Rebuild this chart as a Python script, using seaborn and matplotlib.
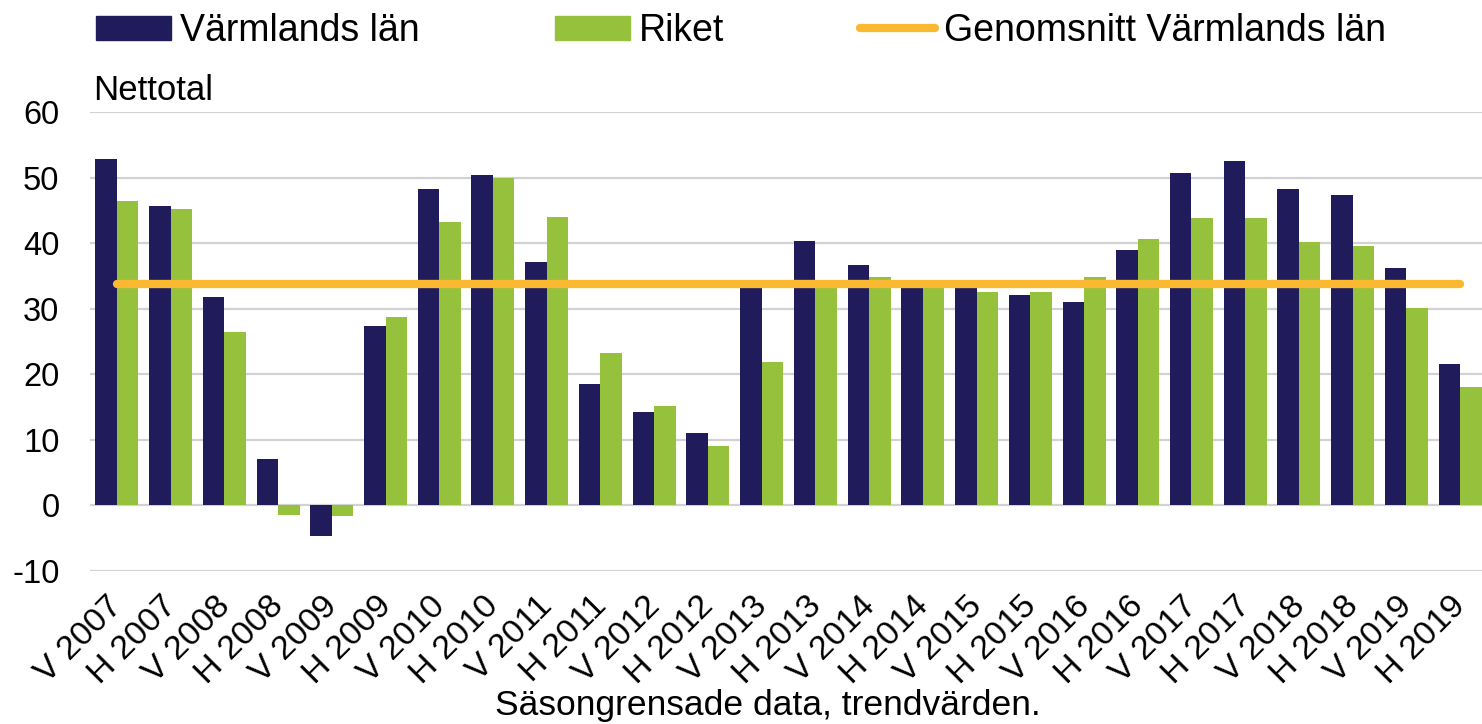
import numpy as np
import pandas as pd
import matplotlib
matplotlib.use("Agg")
import matplotlib.pyplot as plt
import matplotlib.transforms as mtransforms
import seaborn as sns
from matplotlib.patches import Patch
from matplotlib.lines import Line2D

# data
perioder = ['V 2007', 'H 2007', 'V 2008', 'H 2008', 'V 2009', 'H 2009', 'V 2010', 'H 2010',
            'V 2011', 'H 2011', 'V 2012', 'H 2012', 'V 2013', 'H 2013', 'V 2014', 'H 2014',
            'V 2015', 'H 2015', 'V 2016', 'H 2016', 'V 2017', 'H 2017', 'V 2018', 'H 2018',
            'V 2019', 'H 2019']
varmland = [52.9, 45.7, 31.8, 7.1, -4.7, 27.4, 48.2, 50.4, 37.1, 18.5, 14.3, 11.0, 33.6,
            40.4, 36.6, 33.5, 33.3, 32.1, 31.0, 39.0, 50.7, 52.6, 48.2, 47.4, 36.2, 21.5]
riket = [46.5, 45.2, 26.5, -1.4, -1.6, 28.7, 43.2, 49.9, 44.0, 23.2, 15.2, 9.0, 21.8,
         33.5, 34.9, 33.5, 32.6, 32.6, 34.9, 40.7, 43.8, 43.8, 40.2, 39.6, 30.1, 18.0]
genomsnitt = 33.7
serier = ['Värmlands län', 'Riket']
y_ticks = [-10, 0, 10, 20, 30, 40, 50, 60]

dark = '#201c5c'
green = '#95c13d'
orange = '#fbb931'

sns.set_style('white')
plt.rcParams['font.family'] = ['Liberation Sans', 'DejaVu Sans']
plt.rcParams['text.color'] = 'black'
plt.rcParams['xtick.color'] = 'black'
plt.rcParams['ytick.color'] = 'black'

df = pd.DataFrame({
    'period': perioder * 2,
    'serie': [serier[0]] * len(perioder) + [serier[1]] * len(perioder),
    'value': varmland + riket,
})

fig = plt.figure(figsize=(14.82, 7.24), dpi=100)
ax = fig.add_axes([90 / 1482, 0.2113, 1397 / 1482, 0.6340])

sns.barplot(data=df, x='period', y='value', hue='serie', order=perioder, hue_order=serier,
            palette=[dark, green], saturation=1, width=0.8, linewidth=0, ax=ax, legend=False,
            zorder=2)
ax.plot([0, len(perioder) - 1], [genomsnitt, genomsnitt], color=orange, lw=6,
        solid_capstyle='round', zorder=3)

ax.set_ylim(-10, 60)
ax.set_xlim(-0.5, len(perioder) - 0.5)
ax.set_yticks(y_ticks)
ax.set_yticklabels([str(t) for t in y_ticks], fontsize=23.5)
ax.yaxis.grid(True, color='#d2d2d2', lw=1.6, zorder=0)
ax.set_axisbelow(True)
for s in ax.spines.values():
    s.set_visible(False)
ax.tick_params(axis='y', length=0, pad=22)
ax.tick_params(axis='x', length=0, pad=14)
ax.set_xticks(range(len(perioder)))
ax.set_xticklabels(perioder, rotation=45, ha='right', rotation_mode='anchor', fontsize=24.5)
# nudge the rotated labels a little to the left
shift = mtransforms.ScaledTranslation(-10 / 100, 0, fig.dpi_scale_trans)
for lab in ax.get_xticklabels():
    lab.set_transform(lab.get_transform() + shift)
ax.set_xlabel('')
ax.set_ylabel('')

fig.text(93 / 1482, 1 - 90 / 724, 'Nettotal', fontsize=25, va='center', ha='left')
fig.text(768 / 1482, 1 - 706 / 724, 'Säsongrensade data, trendvärden.', fontsize=25.5,
         va='center', ha='center')

handles = [Patch(color=dark), Patch(color=green),
           Line2D([0], [0], color=orange, lw=6, solid_capstyle='round')]
fig.legend(handles, ['Värmlands län', 'Riket', 'Genomsnitt Värmlands län'], ncol=3,
           loc='upper left', bbox_to_anchor=(96 / 1482, 1 - 13 / 724), frameon=False,
           fontsize=27, handlelength=2.0, handleheight=0.6, handletextpad=0.25,
           columnspacing=3.6, borderpad=0, borderaxespad=0)

fig.savefig('out.png', dpi=100)
